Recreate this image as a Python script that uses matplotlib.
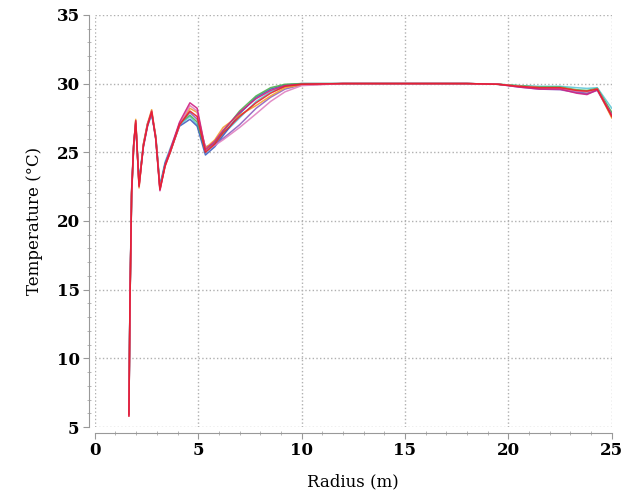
import matplotlib
matplotlib.use("Agg")
import matplotlib.pyplot as plt
from matplotlib.ticker import MultipleLocator

# 径向位置 (m)
radius = [1.65, 1.70, 1.78, 1.88, 1.98, 2.14, 2.35, 2.55, 2.75, 2.95, 3.15, 3.40,
          3.65, 4.10, 4.60, 4.95, 5.35, 5.80, 6.20, 7.00, 7.80, 8.50, 9.20, 10.0,
          12.0, 14.0, 16.0, 18.0, 19.5, 20.5, 21.5, 22.5, 23.3, 23.8, 24.3, 25.0]

# 各次测量的温度曲线 (°C)
temp_red = [5.8, 14.0, 22.0, 25.5, 27.3, 22.5, 25.5, 27.0, 28.0, 26.0, 22.3, 24.0,
            25.0, 27.0, 28.0, 27.6, 25.0, 25.6, 26.4, 27.6, 28.6, 29.3, 29.8, 29.95,
            30.0, 30.0, 30.0, 30.0, 29.95, 29.8, 29.7, 29.7, 29.5, 29.45, 29.6, 27.6]
temp_magenta = [5.9, 14.2, 22.2, 25.6, 27.1, 22.6, 25.4, 26.9, 27.9, 25.9, 22.2, 24.1,
                25.2, 27.2, 28.6, 28.2, 25.2, 25.8, 26.6, 27.9, 28.9, 29.5, 29.85, 29.95,
                30.0, 30.0, 30.0, 30.0, 29.95, 29.75, 29.6, 29.6, 29.3, 29.2, 29.55, 27.7]
temp_blue = [6.0, 14.0, 21.8, 25.4, 27.0, 22.8, 25.6, 27.1, 27.8, 26.1, 22.5, 24.2,
             25.1, 26.9, 27.4, 26.9, 24.8, 25.4, 26.2, 27.8, 29.0, 29.6, 29.9, 30.0,
             30.0, 30.0, 30.0, 30.0, 29.95, 29.8, 29.65, 29.7, 29.4, 29.3, 29.6, 27.8]
temp_green = [6.1, 14.1, 22.1, 25.5, 27.2, 22.7, 25.5, 27.0, 27.9, 26.0, 22.4, 24.1,
              25.0, 27.1, 27.7, 27.2, 25.1, 25.7, 26.5, 28.0, 29.1, 29.7, 29.95, 30.0,
              30.0, 30.0, 30.0, 30.0, 29.95, 29.85, 29.75, 29.75, 29.55, 29.5, 29.65, 27.9]
temp_orange = [6.0, 13.9, 22.0, 25.4, 27.4, 22.4, 25.6, 27.1, 28.1, 26.1, 22.3, 24.0,
               25.1, 27.0, 28.2, 27.9, 25.3, 25.9, 26.8, 27.7, 28.4, 29.1, 29.7, 29.9,
               30.0, 30.0, 30.0, 30.0, 29.95, 29.8, 29.7, 29.7, 29.5, 29.4, 29.6, 27.5]
temp_cyan = [6.2, 14.3, 22.3, 25.6, 27.0, 22.9, 25.4, 26.9, 27.7, 26.2, 22.6, 24.3,
             25.3, 27.0, 27.6, 27.0, 25.0, 25.5, 26.3, 27.5, 28.7, 29.4, 29.8, 29.95,
             30.0, 30.0, 30.0, 30.0, 29.95, 29.85, 29.8, 29.8, 29.7, 29.65, 29.7, 28.2]
temp_purple = [5.9, 14.0, 21.9, 25.5, 27.2, 22.6, 25.5, 27.0, 27.9, 26.0, 22.4, 24.1,
               25.1, 27.1, 27.9, 27.4, 25.4, 25.6, 26.0, 27.0, 28.2, 29.0, 29.6, 29.9,
               30.0, 30.0, 30.0, 30.0, 29.95, 29.75, 29.6, 29.55, 29.35, 29.25, 29.5, 27.6]
temp_pink = [5.8, 14.1, 22.1, 25.5, 27.3, 22.5, 25.5, 27.0, 28.0, 26.0, 22.3, 24.0,
             25.0, 27.0, 28.4, 28.0, 25.1, 25.5, 25.9, 26.8, 27.8, 28.7, 29.4, 29.85,
             30.0, 30.0, 30.0, 30.0, 29.95, 29.8, 29.7, 29.65, 29.45, 29.4, 29.6, 27.7]

series = [
    (temp_cyan, "#5fc8d8"),
    (temp_blue, "#4060c0"),
    (temp_green, "#50b050"),
    (temp_purple, "#9060c0"),
    (temp_orange, "#f0a030"),
    (temp_pink, "#e080c0"),
    (temp_magenta, "#d02080"),
    (temp_red, "#e8202a"),
]

plt.rcParams["font.family"] = ["DejaVu Serif"]

fig = plt.figure(figsize=(6.32, 4.96), dpi=100)
ax = fig.add_axes([0.150, 0.139, 0.818, 0.831])

for temps, color in series:
    ax.plot(radius, temps, color=color, linewidth=1.1, alpha=0.9)

ax.set_xlim(0, 25)
ax.set_ylim(5, 35)
ax.xaxis.set_major_locator(MultipleLocator(5))
ax.xaxis.set_minor_locator(MultipleLocator(1))
ax.yaxis.set_major_locator(MultipleLocator(5))
ax.yaxis.set_minor_locator(MultipleLocator(1))

# 网格和坐标轴样式
ax.grid(True, which="major", linestyle=":", color="#b0b0b0", linewidth=1.0)
for side in ["top", "right"]:
    ax.spines[side].set_visible(False)
for side in ["left", "bottom"]:
    ax.spines[side].set_position(("outward", 4))
    ax.spines[side].set_color("#999999")
ax.tick_params(which="major", length=4, color="#999999", labelsize=12, pad=3)
ax.tick_params(which="minor", length=3, color="#aaaaaa", direction="inout")
for lbl in ax.get_xticklabels() + ax.get_yticklabels():
    lbl.set_fontweight("bold")

ax.set_xlabel("Radius (m)", fontsize=12, labelpad=10)
ax.set_ylabel("Temperature (°C)", fontsize=12, labelpad=10)

fig.savefig("out.png", dpi=100)
